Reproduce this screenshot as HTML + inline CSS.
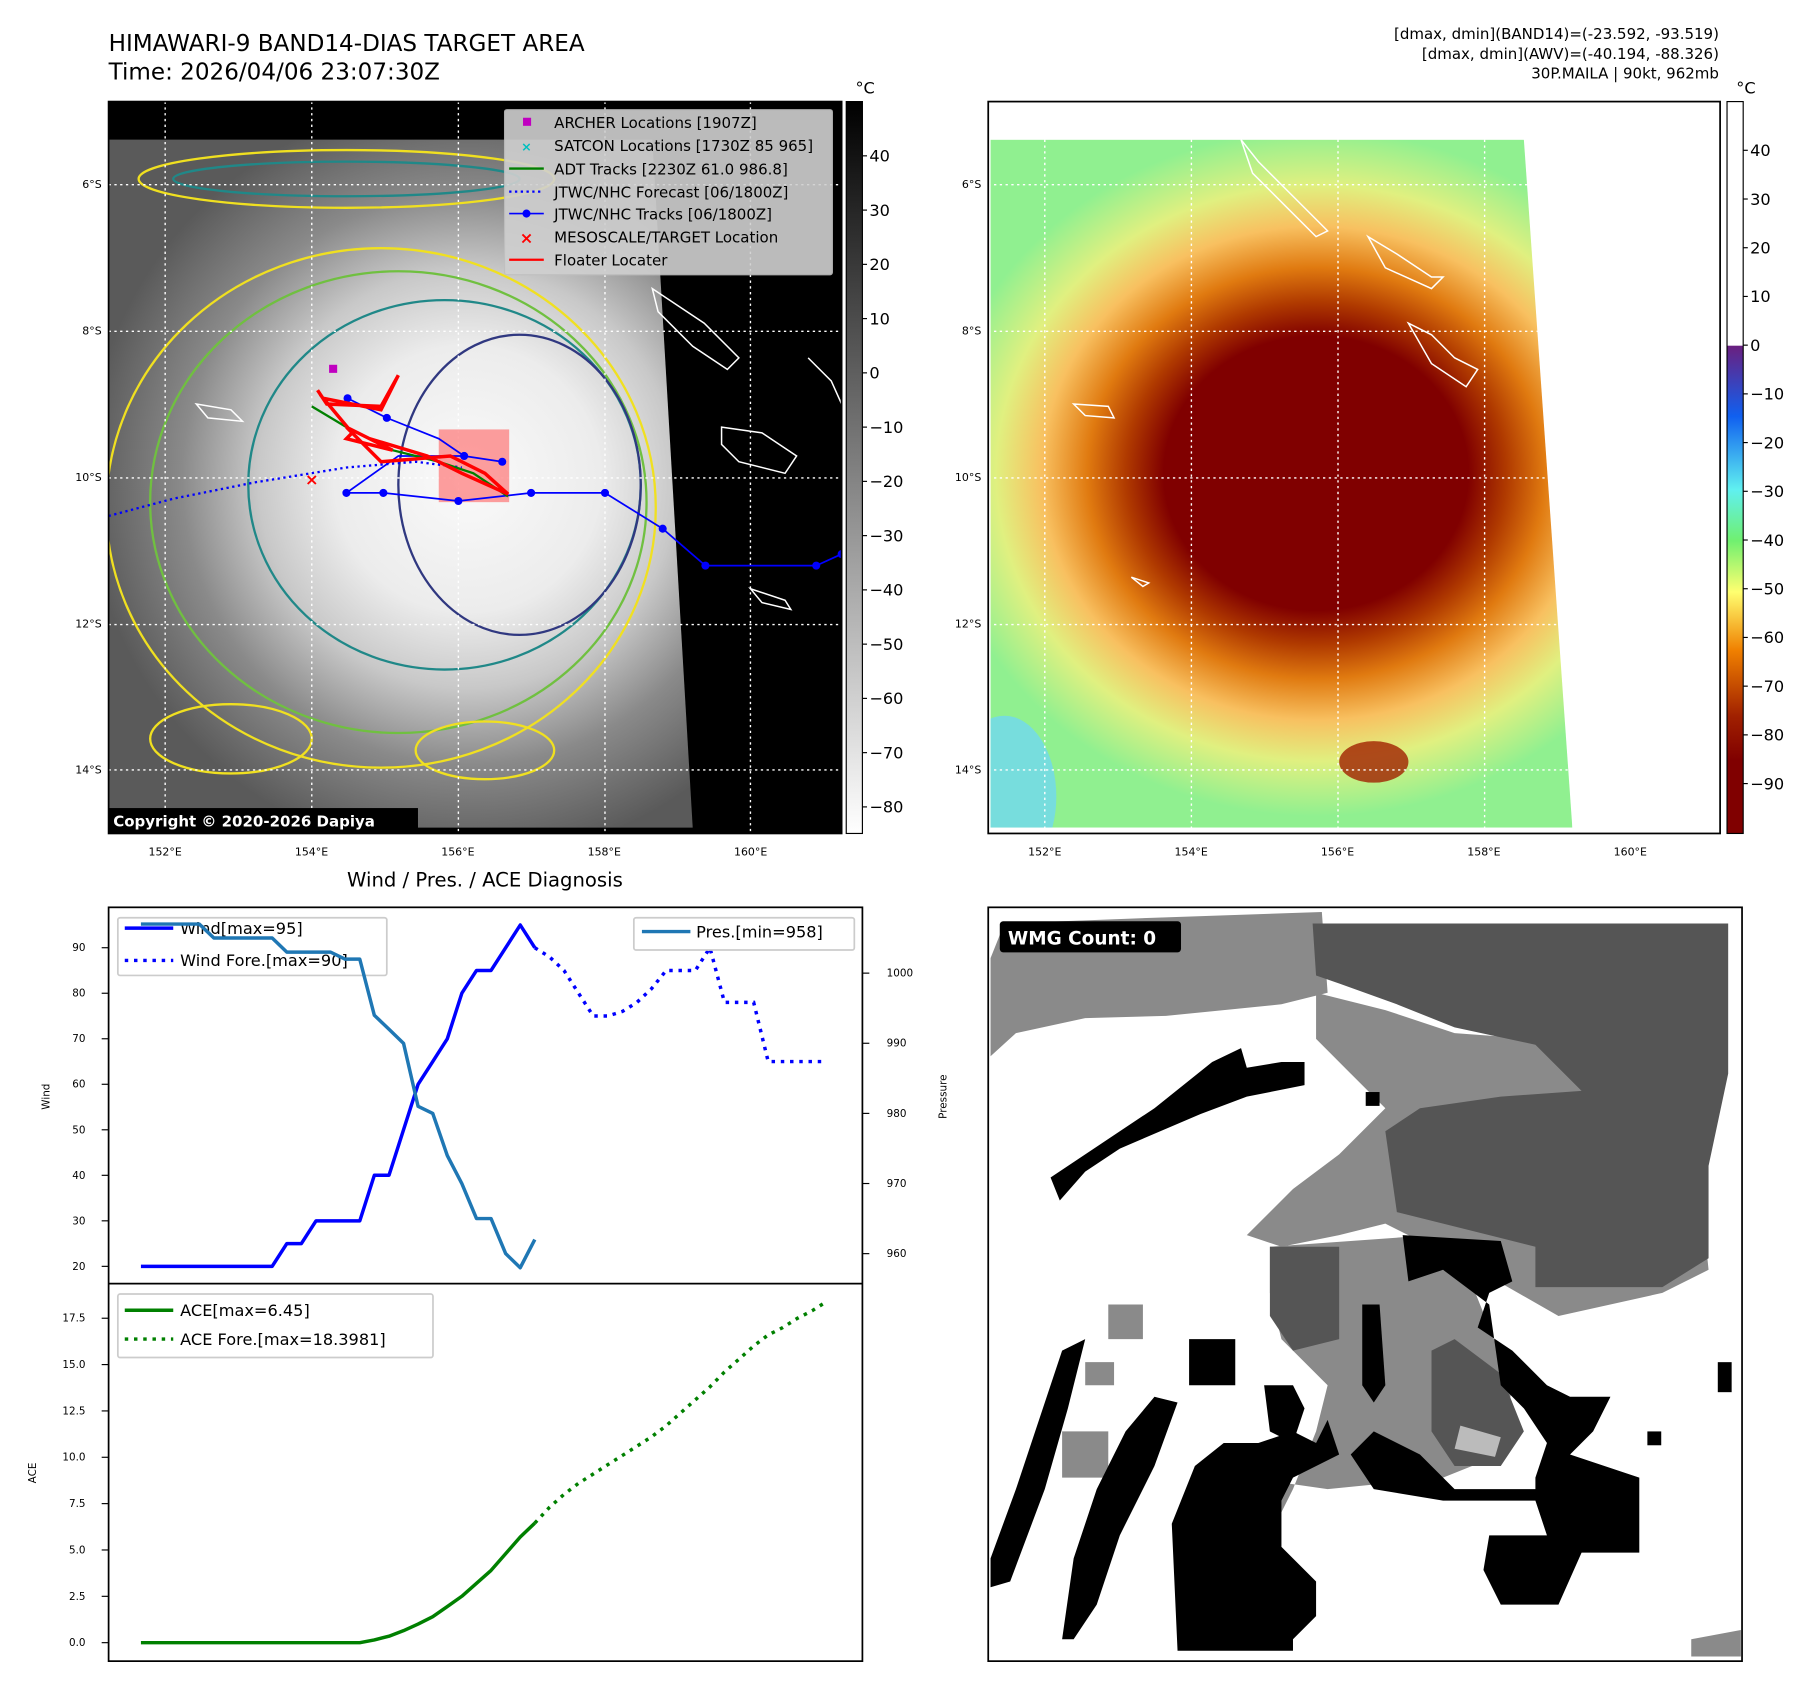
<!DOCTYPE html>
<html><head><meta charset="utf-8"><style>
html,body{margin:0;padding:0;background:#fff;}
svg{display:block;font-family:"DejaVu Sans","Liberation Sans",sans-serif;}
</style></head><body>
<svg id="root" width="1801" height="1690" viewBox="0 0 1560 1464" xmlns="http://www.w3.org/2000/svg">
<defs>
  <radialGradient id="irg" gradientUnits="userSpaceOnUse" cx="405" cy="415" r="330">
    <stop offset="0" stop-color="#fafafa"/><stop offset="0.35" stop-color="#ececec"/>
    <stop offset="0.55" stop-color="#c8c8c8"/><stop offset="0.75" stop-color="#8a8a8a"/>
    <stop offset="1" stop-color="#5a5a5a"/>
  </radialGradient>
  <linearGradient id="cb1" x1="0" y1="0" x2="0" y2="1"><stop offset="0" stop-color="#000"/><stop offset="1" stop-color="#fff"/></linearGradient>
  <linearGradient id="cb2" x1="0" y1="0" x2="0" y2="1">
    <stop offset="0" stop-color="#fff"/><stop offset="0.333" stop-color="#fff"/>
    <stop offset="0.334" stop-color="#6a2080"/><stop offset="0.43" stop-color="#1060f0"/>
    <stop offset="0.53" stop-color="#60f0f0"/><stop offset="0.6" stop-color="#70f070"/>
    <stop offset="0.67" stop-color="#ffff70"/><stop offset="0.75" stop-color="#f08000"/>
    <stop offset="0.84" stop-color="#a02000"/><stop offset="0.9" stop-color="#800000"/><stop offset="1" stop-color="#800000"/>
  </linearGradient>
  <radialGradient id="tc" gradientUnits="userSpaceOnUse" cx="1140" cy="410" r="330" gradientTransform="translate(1140 410) scale(1 0.9) translate(-1140 -410)">
    <stop offset="0" stop-color="#800000"/><stop offset="0.4" stop-color="#800000"/>
    <stop offset="0.5" stop-color="#b03a00"/><stop offset="0.6" stop-color="#e07a10"/>
    <stop offset="0.72" stop-color="#f8c060"/><stop offset="0.84" stop-color="#e0f080"/>
    <stop offset="1" stop-color="#90f090"/>
  </radialGradient>
  <clipPath id="m1"><rect x="94" y="88" width="635" height="634"/></clipPath>
  <clipPath id="m2"><polygon points="858,121 1320,121 1362,717 858,717"/></clipPath>
  <clipPath id="c1"><rect x="94" y="786" width="653" height="326"/></clipPath>
  <clipPath id="c2"><rect x="94" y="1112" width="653" height="327"/></clipPath>
</defs>

<text x="94" y="44" font-size="20">HIMAWARI-9 BAND14-DIAS TARGET AREA</text>
<text x="94" y="69" font-size="20">Time: 2026/04/06 23:07:30Z</text>
<g font-size="13" text-anchor="end">
<text x="1489" y="34">[dmax, dmin](BAND14)=(-23.592, -93.519)</text>
<text x="1489" y="51">[dmax, dmin](AWV)=(-40.194, -88.326)</text>
<text x="1489" y="68">30P.MAILA | 90kt, 962mb</text>
</g>

<g clip-path="url(#m1)">
  <rect x="94" y="88" width="635" height="634" fill="#000"/>
  <polygon points="94,121 565,121 600,717 94,717" fill="url(#irg)"/>
  <g fill="none" stroke-width="2">
    <ellipse cx="330" cy="440" rx="238" ry="225" stroke="#f0e020"/>
    <ellipse cx="345" cy="435" rx="215" ry="200" stroke="#70c040"/>
    <ellipse cx="385" cy="420" rx="170" ry="160" stroke="#208888"/>
    <ellipse cx="450" cy="420" rx="105" ry="130" stroke="#303880"/>
    <ellipse cx="420" cy="650" rx="60" ry="25" stroke="#f0e020"/>
    <ellipse cx="200" cy="640" rx="70" ry="30" stroke="#f0e020"/>
    <ellipse cx="300" cy="155" rx="180" ry="25" stroke="#f0e020"/>
    <ellipse cx="300" cy="155" rx="150" ry="15" stroke="#208888"/>
  </g>
  <g stroke="#fff" stroke-width="1.3" fill="none">
    <path d="M565,250 L610,280 L640,310 L630,320 L600,300 L570,270Z"/>
    <path d="M625,370 L660,375 L690,395 L680,410 L640,400 L625,385Z"/>
    <path d="M170,350 L200,355 L210,365 L180,362Z"/>
    <path d="M700,310 L720,330 L729,350"/>
    <path d="M650,510 L680,520 L685,528 L660,522Z"/>
  </g>
  <g stroke="#fff" stroke-dasharray="2 3" stroke-width="1.2">
    <line x1="143" y1="88" x2="143" y2="722"/><line x1="270" y1="88" x2="270" y2="722"/><line x1="397" y1="88" x2="397" y2="722"/><line x1="524" y1="88" x2="524" y2="722"/><line x1="650" y1="88" x2="650" y2="722"/>
    <line x1="94" y1="160" x2="729" y2="160"/><line x1="94" y1="287" x2="729" y2="287"/><line x1="94" y1="414" x2="729" y2="414"/><line x1="94" y1="541" x2="729" y2="541"/><line x1="94" y1="667" x2="729" y2="667"/>
  </g>
  <rect x="380" y="372" width="61" height="63" fill="#ff6060" opacity="0.6"/>
  <polyline points="94,447 150,432 220,418 300,405 360,400 400,405" fill="none" stroke="#0000ff" stroke-width="2" stroke-dasharray="2 3"/>
  <g>
    <polyline points="729,480 707,490 611,490 574,458 524,427 460,427 397,434 332,427 300,427 345,395 402,395 435,400" fill="none" stroke="#0000ff" stroke-width="1.5"/>
    <polyline points="301,345 335,362 380,380 402,395" fill="none" stroke="#0000ff" stroke-width="1.5"/>
    <g fill="#0000ff"><circle cx="729" cy="480" r="3.5"/><circle cx="707" cy="490" r="3.5"/><circle cx="611" cy="490" r="3.5"/><circle cx="574" cy="458" r="3.5"/><circle cx="524" cy="427" r="3.5"/><circle cx="460" cy="427" r="3.5"/><circle cx="397" cy="434" r="3.5"/><circle cx="332" cy="427" r="3.5"/><circle cx="300" cy="427" r="3.5"/><circle cx="301" cy="345" r="3.5"/><circle cx="335" cy="362" r="3.5"/><circle cx="402" cy="395" r="3.5"/><circle cx="435" cy="400" r="3.5"/></g>
  </g>
  <polyline points="270,352 300,370 340,390 380,400 410,410 440,430" fill="none" stroke="#008000" stroke-width="2"/>
  <polyline points="275,338 283,350 330,352 345,325 330,355 280,345 305,375 300,380 340,390 300,370 330,400 390,395 420,410 440,428 400,410 370,395 320,380" fill="none" stroke="#ff0000" stroke-width="3"/>
  <rect x="285" y="316" width="7" height="7" fill="#c000c0"/>
  <text x="270" y="420" font-size="14" fill="#ff0000" text-anchor="middle" font-weight="bold">×</text>
  <rect x="94" y="700" width="268" height="21" fill="#000"/>
  <text x="98" y="716" font-size="13" font-weight="bold" fill="#fff">Copyright © 2020-2026 Dapiya</text>
</g>
<rect x="94" y="88" width="635" height="634" fill="none" stroke="#000" stroke-width="1.5"/>
<g font-size="13">
  <rect x="437" y="95" width="284" height="143" fill="#d0d0d0" opacity="0.9" stroke="#c0c0c0" rx="2"/>
  <rect x="453" y="102" width="7" height="7" fill="#c000c0"/><text x="480" y="111">ARCHER Locations [1907Z]</text>
  <text x="456" y="131" fill="#00c0c0" font-size="11" text-anchor="middle" font-weight="bold">×</text><text x="480" y="131">SATCON Locations [1730Z 85 965]</text>
  <line x1="441" y1="146" x2="471" y2="146" stroke="#008000" stroke-width="2"/><text x="480" y="151">ADT Tracks [2230Z 61.0 986.8]</text>
  <line x1="441" y1="166" x2="471" y2="166" stroke="#0000ff" stroke-width="2" stroke-dasharray="2 3"/><text x="480" y="171">JTWC/NHC Forecast [06/1800Z]</text>
  <line x1="441" y1="185" x2="471" y2="185" stroke="#0000ff" stroke-width="1.5"/><circle cx="456" cy="185" r="3.5" fill="#0000ff"/><text x="480" y="190">JTWC/NHC Tracks [06/1800Z]</text>
  <text x="456" y="211" fill="#ff0000" font-size="14" text-anchor="middle" font-weight="bold">×</text><text x="480" y="210">MESOSCALE/TARGET Location</text>
  <line x1="441" y1="225" x2="471" y2="225" stroke="#ff0000" stroke-width="2"/><text x="480" y="230">Floater Locater</text>
</g>
<g font-size="14">
  <rect x="733" y="88" width="14" height="634" fill="url(#cb1)" stroke="#000" stroke-width="1"/>
  <text x="741" y="81">°C</text>
  <g id="cb1ticks"></g>
</g>

<g>
  <rect x="856" y="88" width="634" height="634" fill="#fff"/>
  <g clip-path="url(#m2)">
    <rect x="856" y="121" width="510" height="600" fill="url(#tc)"/>
    <ellipse cx="870" cy="690" rx="45" ry="70" fill="#70d8f0" opacity="0.8"/>
    <ellipse cx="1190" cy="660" rx="30" ry="18" fill="#a02000" opacity="0.8"/>
  </g>
  <g stroke="#fff" stroke-width="1.3" fill="none">
    <path d="M1075,121 L1090,140 L1120,170 L1150,200 L1140,205 L1115,180 L1085,150Z"/>
    <path d="M1185,205 L1210,220 L1240,240 L1250,240 L1240,250 L1200,232Z"/>
    <path d="M1220,280 L1240,290 L1260,310 L1280,320 L1270,335 L1240,315Z"/>
    <path d="M930,350 L960,352 L965,362 L940,360Z"/>
    <path d="M980,500 L995,505 L990,508Z"/>
  </g>
  <g stroke="#fff" stroke-dasharray="2 3" stroke-width="1.2">
    <line x1="905" y1="121" x2="905" y2="722"/><line x1="1032" y1="121" x2="1032" y2="722"/><line x1="1159" y1="121" x2="1159" y2="722"/><line x1="1286" y1="121" x2="1286" y2="722"/>
    <line x1="856" y1="160" x2="1325" y2="160"/><line x1="856" y1="287" x2="1335" y2="287"/><line x1="856" y1="414" x2="1342" y2="414"/><line x1="856" y1="541" x2="1350" y2="541"/><line x1="856" y1="667" x2="1358" y2="667"/>
  </g>
  <rect x="856" y="88" width="634" height="634" fill="none" stroke="#000" stroke-width="1.5"/>
</g>
<g font-size="14">
  <rect x="1496" y="88" width="14" height="634" fill="url(#cb2)" stroke="#000" stroke-width="1"/>
  <text x="1504" y="81">°C</text>
  <g id="cb2ticks"></g>
</g>
<g id="maplabels" font-size="9.5"></g>

<text x="420" y="768" font-size="17" text-anchor="middle">Wind / Pres. / ACE Diagnosis</text>
<g id="chart"></g>

<g>
  <rect x="856" y="786" width="653" height="653" fill="#fff"/>
  <g fill="#8a8a8a">
    <polygon points="858,830 870,800 1000,795 1145,790 1150,860 1110,870 1060,875 1010,880 940,882 880,895 858,915"/>
    <polygon points="1140,860 1200,875 1260,895 1330,900 1380,930 1400,960 1470,1000 1480,1100 1440,1120 1350,1140 1280,1100 1240,1080 1200,1060 1160,1070 1110,1080 1080,1070 1120,1030 1160,1000 1200,960 1170,930 1140,900"/>
    <polygon points="1100,1080 1240,1070 1270,1100 1290,1150 1310,1200 1300,1260 1250,1280 1150,1290 1080,1280 1060,1300 1060,1340 1100,1330 1120,1290 1140,1240 1150,1200 1110,1160 1100,1120"/>
    <polygon points="940,1180 965,1180 965,1200 940,1200"/>
    <polygon points="920,1240 960,1240 960,1280 920,1280"/>
    <polygon points="960,1130 990,1130 990,1160 960,1160"/>
    <polygon points="1465,1420 1508,1412 1508,1435 1465,1435"/>
  </g>
  <g fill="#555">
    <polygon points="1137,800 1497,800 1497,930 1480,1010 1480,1090 1440,1115 1330,1115 1330,1080 1290,1070 1210,1050 1200,980 1230,960 1300,950 1370,945 1330,905 1260,890 1210,870 1160,852 1140,845"/>
    <polygon points="1100,1080 1160,1080 1160,1160 1120,1170 1100,1140"/>
    <polygon points="1240,1170 1260,1160 1300,1190 1320,1240 1300,1270 1260,1270 1240,1240"/>
  </g>
  <g fill="#bbb"><polygon points="1265,1235 1300,1245 1295,1262 1260,1255"/></g>
  <g fill="#000">
    <polygon points="910,1020 1000,960 1050,920 1075,908 1080,925 1110,920 1130,920 1130,940 1080,950 1040,965 970,995 940,1015 918,1040"/>
    <polygon points="858,1350 880,1290 900,1230 920,1170 940,1160 925,1220 905,1290 875,1370 858,1375"/>
    <polygon points="920,1420 930,1350 950,1290 975,1240 1000,1210 1020,1215 1000,1270 970,1330 950,1390 930,1420"/>
    <polygon points="1015,1320 1035,1270 1060,1250 1090,1250 1120,1240 1140,1250 1150,1230 1160,1260 1120,1280 1110,1300 1110,1340 1140,1370 1140,1400 1120,1420 1120,1430 1020,1430"/>
    <polygon points="1215,1070 1300,1075 1310,1110 1290,1120 1280,1150 1310,1170 1340,1200 1360,1210 1395,1210 1380,1240 1360,1260 1420,1280 1420,1345 1370,1345 1350,1390 1300,1390 1285,1360 1290,1330 1340,1330 1330,1300 1250,1300 1190,1290 1170,1260 1190,1240 1230,1260 1260,1290 1330,1290 1330,1280 1340,1250 1320,1220 1300,1200 1290,1130 1250,1100 1220,1110"/>
    <polygon points="1180,1130 1195,1130 1200,1200 1190,1215 1180,1200"/>
    <polygon points="1095,1200 1120,1200 1130,1220 1120,1250 1100,1240"/>
    <rect x="1183" y="946" width="12" height="12"/>
    <rect x="1488" y="1180" width="12" height="26"/>
    <rect x="1427" y="1240" width="12" height="12"/>
    <polygon points="1030,1160 1070,1160 1070,1200 1030,1200"/>
  </g>
  <rect x="866" y="798" width="157" height="27" rx="3" fill="#000"/>
  <text x="873" y="818" font-size="16" font-weight="bold" fill="#fff">WMG Count: 0</text>
  <rect x="856" y="786" width="653" height="653" fill="none" stroke="#000" stroke-width="1.5"/>
</g>

<script>
var wind = [20,20,20,20,20,20,20,20,20,20,25,25,30,30,30,30,40,40,50,60,65,70,80,85,85,90,95,90];
var windFore = [90,88,85,80,75,75,76,78,81,85,85,85,90,78,78,78,65,65,65,65,65];
var pres = [1007,1007,1007,1007,1007,1005,1005,1005,1005,1005,1003,1003,1003,1003,1002,1002,994,992,990,981,980,974,970,965,965,960,958,962];
var ace = [0,0,0,0,0,0,0,0,0,0,0,0,0,0,0,0,0.15,0.35,0.65,1.0,1.4,1.95,2.5,3.2,3.9,4.8,5.7,6.45];
var aceFore = [6.45,7.3,8.0,8.6,9.1,9.6,10.1,10.6,11.1,11.7,12.4,13.1,13.8,14.6,15.3,16.0,16.6,17.0,17.5,17.9,18.4];
var windTicks = [20,30,40,50,60,70,80,90];
var presTicks = [960,970,980,990,1000];
var aceTicks = ["0.0","2.5","5.0","7.5","10.0","12.5","15.0","17.5"];
var cb1Labels = [40,30,20,10,0,-10,-20,-30,-40,-50,-60,-70,-80];
var cb2Labels = [40,30,20,10,0,-10,-20,-30,-40,-50,-60,-70,-80,-90];
var lonLabels = ["152°E","154°E","156°E","158°E","160°E"];
var latLabels = ["6°S","8°S","10°S","12°S","14°S"];

var NS="http://www.w3.org/2000/svg";
function mk(tag, attrs, parent){var e=document.createElementNS(NS,tag);for(var k in attrs)e.setAttribute(k,attrs[k]);parent.appendChild(e);return e;}
function xI(i){return 122 + i*(716-122)/47;}
function yW(v){return 1097 - (v-20)*3.943;}
function yP(v){return 1086 - (v-960)*6.075;}
function yA(v){return 1423 - v*16.06;}
function cb1Y(v){return 135 + (40-v)*4.7;}
function cb2Y(v){return 299 - v*4.22;}

var g1=document.getElementById('cb1ticks');
cb1Labels.forEach(function(v){var y=cb1Y(v);
  mk('line',{x1:747,y1:y,x2:751,y2:y,stroke:'#000'},g1);
  var t=mk('text',{x:753,y:y+5},g1); t.textContent=(v<0?'\u2212'+(-v):v);
  
  });
var g2=document.getElementById('cb2ticks');
cb2Labels.forEach(function(v){var y=cb2Y(v);
  mk('line',{x1:1510,y1:y,x2:1514,y2:y,stroke:'#000'},g2);
  var t=mk('text',{x:1516,y:y+5},g2); t.textContent=(v<0?'\u2212'+(-v):v);
  
  });
var ml=document.getElementById('maplabels');
lonLabels.forEach(function(s,i){[143,905].forEach(function(x0){
  var t=mk('text',{x:x0+i*126.8,y:741,'text-anchor':'middle'},ml); t.textContent=s;
  
  });});
latLabels.forEach(function(s,i){[88,850].forEach(function(x0){
  var t=mk('text',{x:x0,y:163+i*126.8,'text-anchor':'end'},ml); t.textContent=s;
  
  });});

var C=document.getElementById('chart');
function pts(arr,off,fy){return arr.map(function(v,i){return xI(i+off).toFixed(1)+','+fy(v).toFixed(1);}).join(' ');}
var topG=mk('g',{'clip-path':'url(#c1)'},C);
var l;
l=mk('polyline',{points:pts(wind,0,yW),fill:'none',stroke:'#0000ff','stroke-width':3,'stroke-linejoin':'round'},topG);


l=mk('polyline',{points:pts(windFore,27,yW),fill:'none',stroke:'#0000ff','stroke-width':3,'stroke-dasharray':'3 5'},topG);


var botG=mk('g',{'clip-path':'url(#c2)'},C);
l=mk('polyline',{points:pts(ace,0,yA),fill:'none',stroke:'#008000','stroke-width':3,'stroke-linejoin':'round'},botG);


l=mk('polyline',{points:pts(aceFore,27,yA),fill:'none',stroke:'#008000','stroke-width':3,'stroke-dasharray':'3 5'},botG);



var ax=mk('g',{'font-size':'9'},C);
windTicks.forEach(function(v){var y=yW(v);mk('line',{x1:88,y1:y,x2:94,y2:y,stroke:'#000'},ax);
  var t=mk('text',{x:74,y:y+3,'text-anchor':'end'},ax);t.textContent=v;
  
  });
presTicks.forEach(function(v){var y=yP(v);mk('line',{x1:747,y1:y,x2:753,y2:y,stroke:'#000'},ax);
  var t=mk('text',{x:768,y:y+3},ax);t.textContent=v;
  
  });
aceTicks.forEach(function(s){var y=yA(parseFloat(s));mk('line',{x1:88,y1:y,x2:94,y2:y,stroke:'#000'},ax);
  var t=mk('text',{x:74,y:y+3,'text-anchor':'end'},ax);t.textContent=s;
  
  });
var tt;
tt=mk('text',{x:43,y:950,transform:'rotate(-90 43 950)','text-anchor':'middle'},ax);tt.textContent='Wind';


tt=mk('text',{x:820,y:950,transform:'rotate(-90 820 950)','text-anchor':'middle'},ax);tt.textContent='Pressure';


tt=mk('text',{x:31,y:1276,transform:'rotate(-90 31 1276)','text-anchor':'middle'},ax);tt.textContent='ACE';


mk('rect',{x:94,y:786,width:653,height:653,fill:'none',stroke:'#000','stroke-width':1.5},C);
mk('line',{x1:94,y1:1112,x2:747,y2:1112,stroke:'#000','stroke-width':1.5},C);

var lg=mk('g',{'font-size':'14'},C);
function legBox(x,y,w,h){mk('rect',{x:x,y:y,width:w,height:h,rx:2,fill:'#fff','fill-opacity':0.8,stroke:'#ccc','stroke-width':1.5},lg);}
function legLine(x,y,col,dash){var a={x1:x,y1:y,x2:x+42,y2:y,stroke:col,'stroke-width':3};if(dash)a['stroke-dasharray']='3 5';mk('line',a,lg);}
function legText(x,y,s,n){var t=mk('text',{x:x,y:y},lg);t.textContent=s;
  
  }
legBox(102,795,233,50);
legLine(108,804,'#0000ff');legText(156,809,'Wind[max=95]','legend-wind');
legLine(108,832,'#0000ff',true);legText(156,837,'Wind Fore.[max=90]','legend-wind-forecast');
legBox(549,795,191,28);
legLine(556,807,'#1f77b4');legText(603,812,'Pres.[min=958]','legend-pressure');
legBox(102,1121,273,55);
legLine(108,1135,'#008000');legText(156,1140,'ACE[max=6.45]','legend-ace');
legLine(108,1160,'#008000',true);legText(156,1165,'ACE Fore.[max=18.3981]','legend-ace-forecast');
l=mk('polyline',{points:pts(pres,0,yP),fill:'none',stroke:'#1f77b4','stroke-width':3,'stroke-linejoin':'round','clip-path':'url(#c1)'},C);


</script>
</svg>
</body></html>
